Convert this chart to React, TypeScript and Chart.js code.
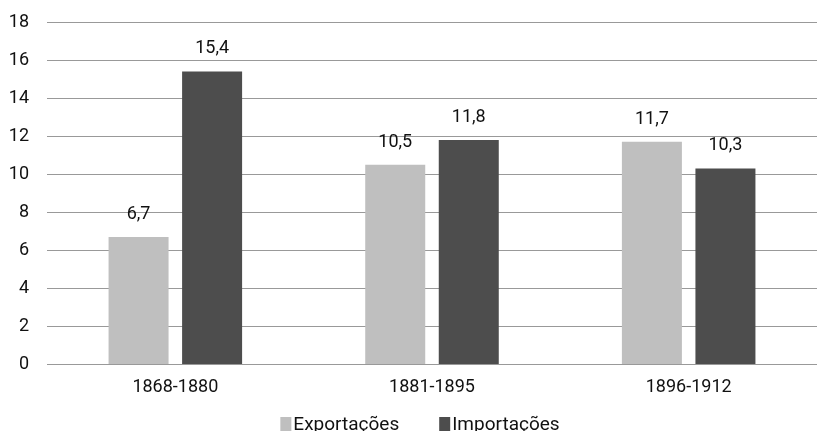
import React, { useEffect, useRef } from "react";
import { Chart, registerables } from "chart.js";

Chart.register(...registerables);

const categories = ["1868-1880", "1881-1895", "1896-1912"];
const exportacoes = [6.7, 10.5, 11.7];
const importacoes = [15.4, 11.8, 10.3];
const seriesNames = ["Exportações", "Importações"];
const seriesColors = ["#bfbfbf", "#4d4d4d"];

const FONT = "Roboto, 'Noto Sans', sans-serif";

// Writes each bar's value (comma decimal) just above the bar.
const valueLabels = {
  id: "valueLabels",
  afterDatasetsDraw(chart: any) {
    const ctx = chart.ctx;
    ctx.save();
    ctx.font = `18px ${FONT}`;
    ctx.fillStyle = "#111";
    ctx.textAlign = "center";
    ctx.textBaseline = "alphabetic";
    chart.data.datasets.forEach((ds: any, i: number) => {
      const meta = chart.getDatasetMeta(i);
      meta.data.forEach((bar: any, j: number) => {
        const v = ds.data[j] as number;
        ctx.fillText(v.toFixed(1).replace(".", ","), bar.x, bar.y - 18);
      });
    });
    ctx.restore();
  },
};

// Compact legend at the foot of the canvas: square swatch followed by label.
const footLegend = {
  id: "footLegend",
  afterDraw(chart: any) {
    const ctx = chart.ctx;
    const datasets = chart.data.datasets;
    ctx.save();
    ctx.font = `19px ${FONT}`;
    const box = 11;
    const gapBox = 2;
    const gapItem = 40;
    const widths = datasets.map((d: any) => box + gapBox + ctx.measureText(d.label).width);
    const total = widths.reduce((a: number, b: number) => a + b, 0) + gapItem * (datasets.length - 1);
    const center = (chart.chartArea.left + chart.chartArea.right) / 2 - 12;
    let x = center - total / 2;
    const baseline = chart.height - 1;
    datasets.forEach((d: any, i: number) => {
      ctx.fillStyle = d.backgroundColor;
      ctx.fillRect(x, baseline - 13, box, 17);
      ctx.fillStyle = "#111";
      ctx.textAlign = "left";
      ctx.textBaseline = "alphabetic";
      ctx.fillText(d.label, x + box + gapBox, baseline);
      x += widths[i] + gapItem;
    });
    ctx.restore();
  },
};

export default function App() {
  const ref = useRef<HTMLCanvasElement>(null);

  useEffect(() => {
    document.body.style.margin = "0";
    const chart = new Chart(ref.current!, {
      type: "bar",
      data: {
        labels: categories,
        datasets: [
          {
            label: seriesNames[0],
            data: exportacoes,
            backgroundColor: seriesColors[0],
            categoryPercentage: 0.573,
            barPercentage: 0.816,
          },
          {
            label: seriesNames[1],
            data: importacoes,
            backgroundColor: seriesColors[1],
            categoryPercentage: 0.573,
            barPercentage: 0.816,
          },
        ],
      },
      options: {
        responsive: false,
        animation: false,
        layout: { padding: { top: 22, right: 0, left: 0, bottom: 21 } },
        scales: {
          x: {
            grid: { display: false, drawTicks: false },
            border: { display: false },
            ticks: { color: "#111", font: { family: FONT, size: 18 }, padding: 12 },
          },
          y: {
            min: 0,
            max: 18,
            ticks: {
              stepSize: 2,
              color: "#111",
              font: { family: FONT, size: 18, lineHeight: 0.4 },
              padding: 18,
            },
            grid: { color: "#999", drawTicks: false },
            border: { display: false },
            afterFit(scale: any) {
              scale.width = 47;
            },
          },
        },
        plugins: {
          legend: { display: false },
          tooltip: { enabled: false },
        },
      },
      plugins: [valueLabels, footLegend],
    });
    return () => chart.destroy();
  }, []);

  return (
    <div style={{ position: "absolute", left: 0, top: 0, width: 817, height: 431, background: "#fff" }}>
      <canvas ref={ref} width={817} height={431} />
    </div>
  );
}
